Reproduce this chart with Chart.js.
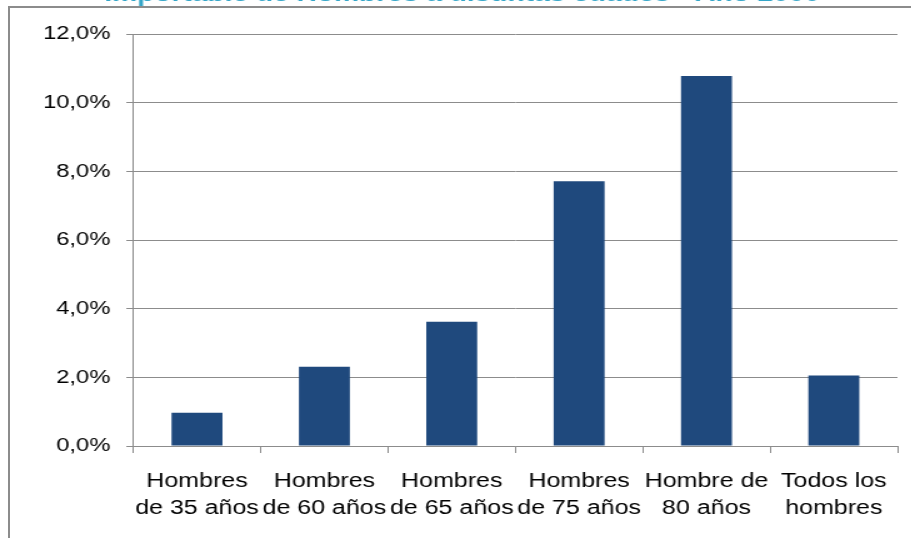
<!DOCTYPE html>
<html>
<head>
<meta charset="utf-8">
<script src="https://cdn.jsdelivr.net/npm/chart.js@4/dist/chart.umd.min.js"></script>
<style>
  html, body { margin: 0; padding: 0; background: #fff; overflow: hidden; width: 911px; height: 538px; }
  /* canvas is drawn narrow and stretched sideways, the title sits partly above the page */
  #wrap { position: absolute; left: 0; top: -20px; width: 729px; height: 558px; transform: scaleX(1.25); transform-origin: 0 0; }
  #frame { position: absolute; left: 8px; top: 6px; width: 1200px; height: 1200px; border-left: 2px solid #8c8c8c; border-top: 2px solid #8c8c8c; pointer-events: none; }
</style>
</head>
<body>
<div id="wrap"><canvas id="myChart" width="729" height="558"></canvas></div>
<div id="frame"></div>
<script>
// categorias (dos lineas por etiqueta)
var categorias = [
    ['Hombres', 'de 35 años'],
    ['Hombres', 'de 60 años'],
    ['Hombres', 'de 65 años'],
    ['Hombres', 'de 75 años'],
    ['Hombre de', '80 años'],
    ['Todos los', 'hombres']
];
// valores en %
var valores = [0.97, 2.31, 3.62, 7.71, 10.78, 2.05];
// eje Y
var yMin = 0;
var yMax = 12;
var yPaso = 2;

var titulo = 'Importable de Hombres a distintas edades - Año 2000';

var fuente = "'Liberation Sans', Arial, sans-serif";
var gris = '#8c8c8c';

function etiquetaY(v) {
    return v.toFixed(1).replace('.', ',') + '%';
}

var ctx = document.getElementById('myChart');

new Chart(ctx, {
    type: 'bar',
    data: {
        labels: categorias,
        datasets: [{
            label: 'Hombres',
            data: valores,
            backgroundColor: '#1F497D',
            borderWidth: 0,
            barPercentage: 0.4,
            categoryPercentage: 1
        }]
    },
    options: {
        responsive: false,
        animation: false,
        devicePixelRatio: 1,
        layout: {
            padding: { left: 21.6, right: 11, top: 0, bottom: 1 }
        },
        plugins: {
            legend: { display: false },
            tooltip: { enabled: false },
            title: {
                display: true,
                text: titulo,
                color: '#33A5C8',
                font: { family: fuente, size: 22.5, weight: 'bold', lineHeight: 1.2 },
                padding: { top: 1, bottom: 26 }
            }
        },
        scales: {
            x: {
                grid: {
                    display: true,
                    drawOnChartArea: false,
                    drawTicks: true,
                    tickLength: 7,
                    color: gris,
                    offset: true
                },
                border: { display: true, color: gris, width: 1 },
                ticks: {
                    color: '#000',
                    padding: 15,
                    maxRotation: 0,
                    autoSkip: false,
                    font: { family: fuente, size: 20, lineHeight: 1.35 }
                }
            },
            y: {
                min: yMin,
                max: yMax,
                grid: {
                    color: gris,
                    lineWidth: 1,
                    drawTicks: true,
                    tickLength: 5.6
                },
                border: { display: true, color: gris, width: 1 },
                ticks: {
                    stepSize: yPaso,
                    color: '#000',
                    padding: 12.8,
                    font: { family: fuente, size: 19, lineHeight: 1.2 },
                    callback: function (v) { return etiquetaY(v); }
                }
            }
        }
    }
});
</script>
</body>
</html>
